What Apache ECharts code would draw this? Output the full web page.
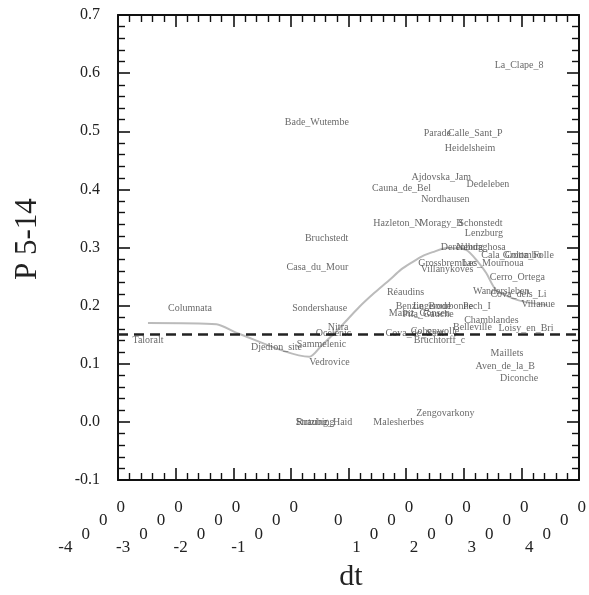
<!DOCTYPE html>
<html>
<head>
<meta charset="utf-8">
<script src="https://cdn.jsdelivr.net/npm/echarts@6/dist/echarts.min.js"></script>
<style>html,body{margin:0;padding:0;background:#fff;}#chart{width:589px;height:595px;}</style>
</head>
<body>
<div id="chart"></div>
<script>
// ---- data ----
var siteNames = ['Bade_Wutembe','Bruchstedt','Casa_du_Mour','Columnata','Sondershause','Taloralt','Djedion_site','Sammelenic','Vedrovice','Straubing','Rutzing_Haid','Nitra','Ocelenic','La_Clape_8','Parade','Calle_Sant_P','Heidelsheim','Ajdovska_Jam','Dedeleben','Cauna_de_Bel','Nordhausen','Hazleton_N','Moragy_B','Schonstedt','Lenzburg','Derenburg','Nebdaghosa','Cala_Colombo','Grotta_Folle','Grossbrembac','Les_Mournoua','Villanykoves','Cerro_Ortega','Réaudins','Wandersleben','Cova_dels_Li','Villanue','Pech_I','Benzingerode','Le_Bourbonne','Mainz_Gonsen','Pila_Gauche','Chamblandes','Belleville','Loisy_en_Bri','Cova_de_Sant','Cohenwolle','Bruchtorff_c','Maillets','Aven_de_la_B','Diconche','Zengovarkony','Malesherbes'];
var siteDt = [-550,-380,-540,-2750,-500,-3480,-1250,-470,-330,-580,-420,-180,-260,2960,1540,2200,2110,1610,2420,920,1680,850,1610,2290,2350,1970,2300,2830,3120,1710,2510,1710,2930,990,2650,2950,3290,2230,1300,1640,1230,1380,2480,2150,3080,1150,1500,1580,2750,2720,2960,1680,870];
var siteP = [0.516,0.316,0.266,0.196,0.196,0.141,0.129,0.134,0.103,0.000,0.000,0.163,0.153,0.614,0.497,0.497,0.471,0.420,0.409,0.402,0.382,0.342,0.342,0.342,0.325,0.300,0.300,0.287,0.287,0.273,0.273,0.263,0.248,0.223,0.225,0.220,0.203,0.198,0.198,0.198,0.187,0.185,0.175,0.163,0.161,0.153,0.156,0.141,0.118,0.096,0.075,0.015,0.000];
var smoothDt = [-3480,-2290,-1940,-680,-480,-190,190,450,710,910,1110,1300,1460,1700,2040,2250,2390,2560,2840,3080,3450];
var smoothP = [0.170,0.168,0.153,0.112,0.130,0.158,0.198,0.222,0.244,0.262,0.275,0.286,0.292,0.299,0.296,0.275,0.256,0.227,0.213,0.206,0.201];
var referenceLevel = 0.153;
var xTickValues = [-4000,-3000,-2000,-1000,0,1000,2000,3000,4000];
var yTickValues = [-0.1,0,0.1,0.2,0.3,0.4,0.5,0.6,0.7];

// ---- chart ----
var chart = echarts.init(document.getElementById('chart'), null, {renderer:'canvas'});
var serif = 'Liberation Serif, Times New Roman, serif';
var pts = siteNames.map(function(n,i){ return {name:n, value:[siteDt[i], siteP[i]]}; });
var curve = smoothDt.map(function(x,i){ return [x, smoothP[i]]; });
var xMin = xTickValues[0], xMax = xTickValues[xTickValues.length-1];
var yMin = yTickValues[0], yMax = yTickValues[yTickValues.length-1];

function baseAxisStyle(){
  return {
    axisLine:{show:true, onZero:false, lineStyle:{color:'#111', width:2}},
    axisTick:{show:true, inside:true, length:12, lineStyle:{color:'#111', width:1.6}},
    minorTick:{show:true, splitNumber:5, length:7, lineStyle:{color:'#111', width:1.4}},
    splitLine:{show:false}, minorSplitLine:{show:false}
  };
}
var labStyle = {fontFamily:serif, fontSize:17, color:'#222'};
function tok(pt, pl, pr){ return Object.assign({verticalAlign:'top', padding:[pt,pr||0,0,pl]}, labStyle); }
var richTokens = { a:tok(40,0), b:tok(26.7,9), c:tok(13.3,9), d:tok(0,9), z:tok(13.3,0,13) };
function stairLabel(v){
  if (v === 0) return '{z|0}';
  var s = String(v); var head = s.slice(0, -3);
  return '{a|' + head + '}{b|0}{c|0}{d|0}';
}
function labelOpts(parity, showEnds){
  return {show:true, showMinLabel:showEnds, showMaxLabel:showEnds, margin:19, align:'right', padding:[0,-7,0,0],
    color:'#222', fontFamily:serif, fontSize:17, rich:richTokens,
    formatter:function(v){
      var k = Math.round(v/1000);
      if (Math.abs(k % 2) !== parity) return '';
      return stairLabel(v);
    }};
}
// bottom axis: frame line, ticks, even-thousand labels
var xb = Object.assign(baseAxisStyle(), {type:'value', min:xMin, max:xMax, interval:1000, position:'bottom', axisLabel:labelOpts(0, true)});
// bottom axis (labels only): odd-thousand labels
var xb2 = {type:'value', min:xMin, max:xMax, interval:1000, position:'bottom', axisLine:{show:false}, axisTick:{show:false}, minorTick:{show:false}, splitLine:{show:false}, axisLabel:labelOpts(1, false)};
var xt = Object.assign(baseAxisStyle(), {type:'value', min:xMin, max:xMax, interval:1000, position:'top', axisLabel:{show:false}});
var yl = Object.assign(baseAxisStyle(), {type:'value', min:yMin, max:yMax, interval:0.1, position:'left',
  axisLabel:{show:true, showMinLabel:true, showMaxLabel:true, margin:18, color:'#222', fontFamily:serif, fontSize:16, formatter:function(v){ return v.toFixed(1); }}});
var yr = Object.assign(baseAxisStyle(), {type:'value', min:yMin, max:yMax, interval:0.1, position:'right', axisLabel:{show:false}});

chart.setOption({
  animation:false,
  backgroundColor:'#fff',
  grid:{left:118, right:9, top:15, bottom:115, containLabel:false},
  xAxis:[xb, xt, xb2],
  yAxis:[yl, yr],
  graphic:[
    {type:'text', rotation:Math.PI/2, x:12, y:280, style:{text:'P 5-14', font:'31px ' + serif, fill:'#222', textAlign:'left', textVerticalAlign:'top'}},
    {type:'text', x:351, y:577, style:{text:'dt', font:'30px ' + serif, fill:'#222', textAlign:'center', textVerticalAlign:'middle'}}
  ],
  series:[
    {type:'line', data:curve, xAxisIndex:0, yAxisIndex:0, showSymbol:false, smooth:0.25, lineStyle:{color:'#bbbbbb', width:2}, z:2,
      markLine:{silent:true, symbol:['none','none'], label:{show:false}, lineStyle:{color:'#222', width:2.5, type:[10,6]}, data:[{yAxis:referenceLevel}]}},
    {type:'scatter', data:pts, xAxisIndex:0, yAxisIndex:0, symbolSize:0.1, itemStyle:{color:'rgba(0,0,0,0)'}, z:3,
      label:{show:true, position:'inside', formatter:'{b}', color:'#444', fontFamily:serif, fontSize:10}}
  ]
});
</script>
</body>
</html>
